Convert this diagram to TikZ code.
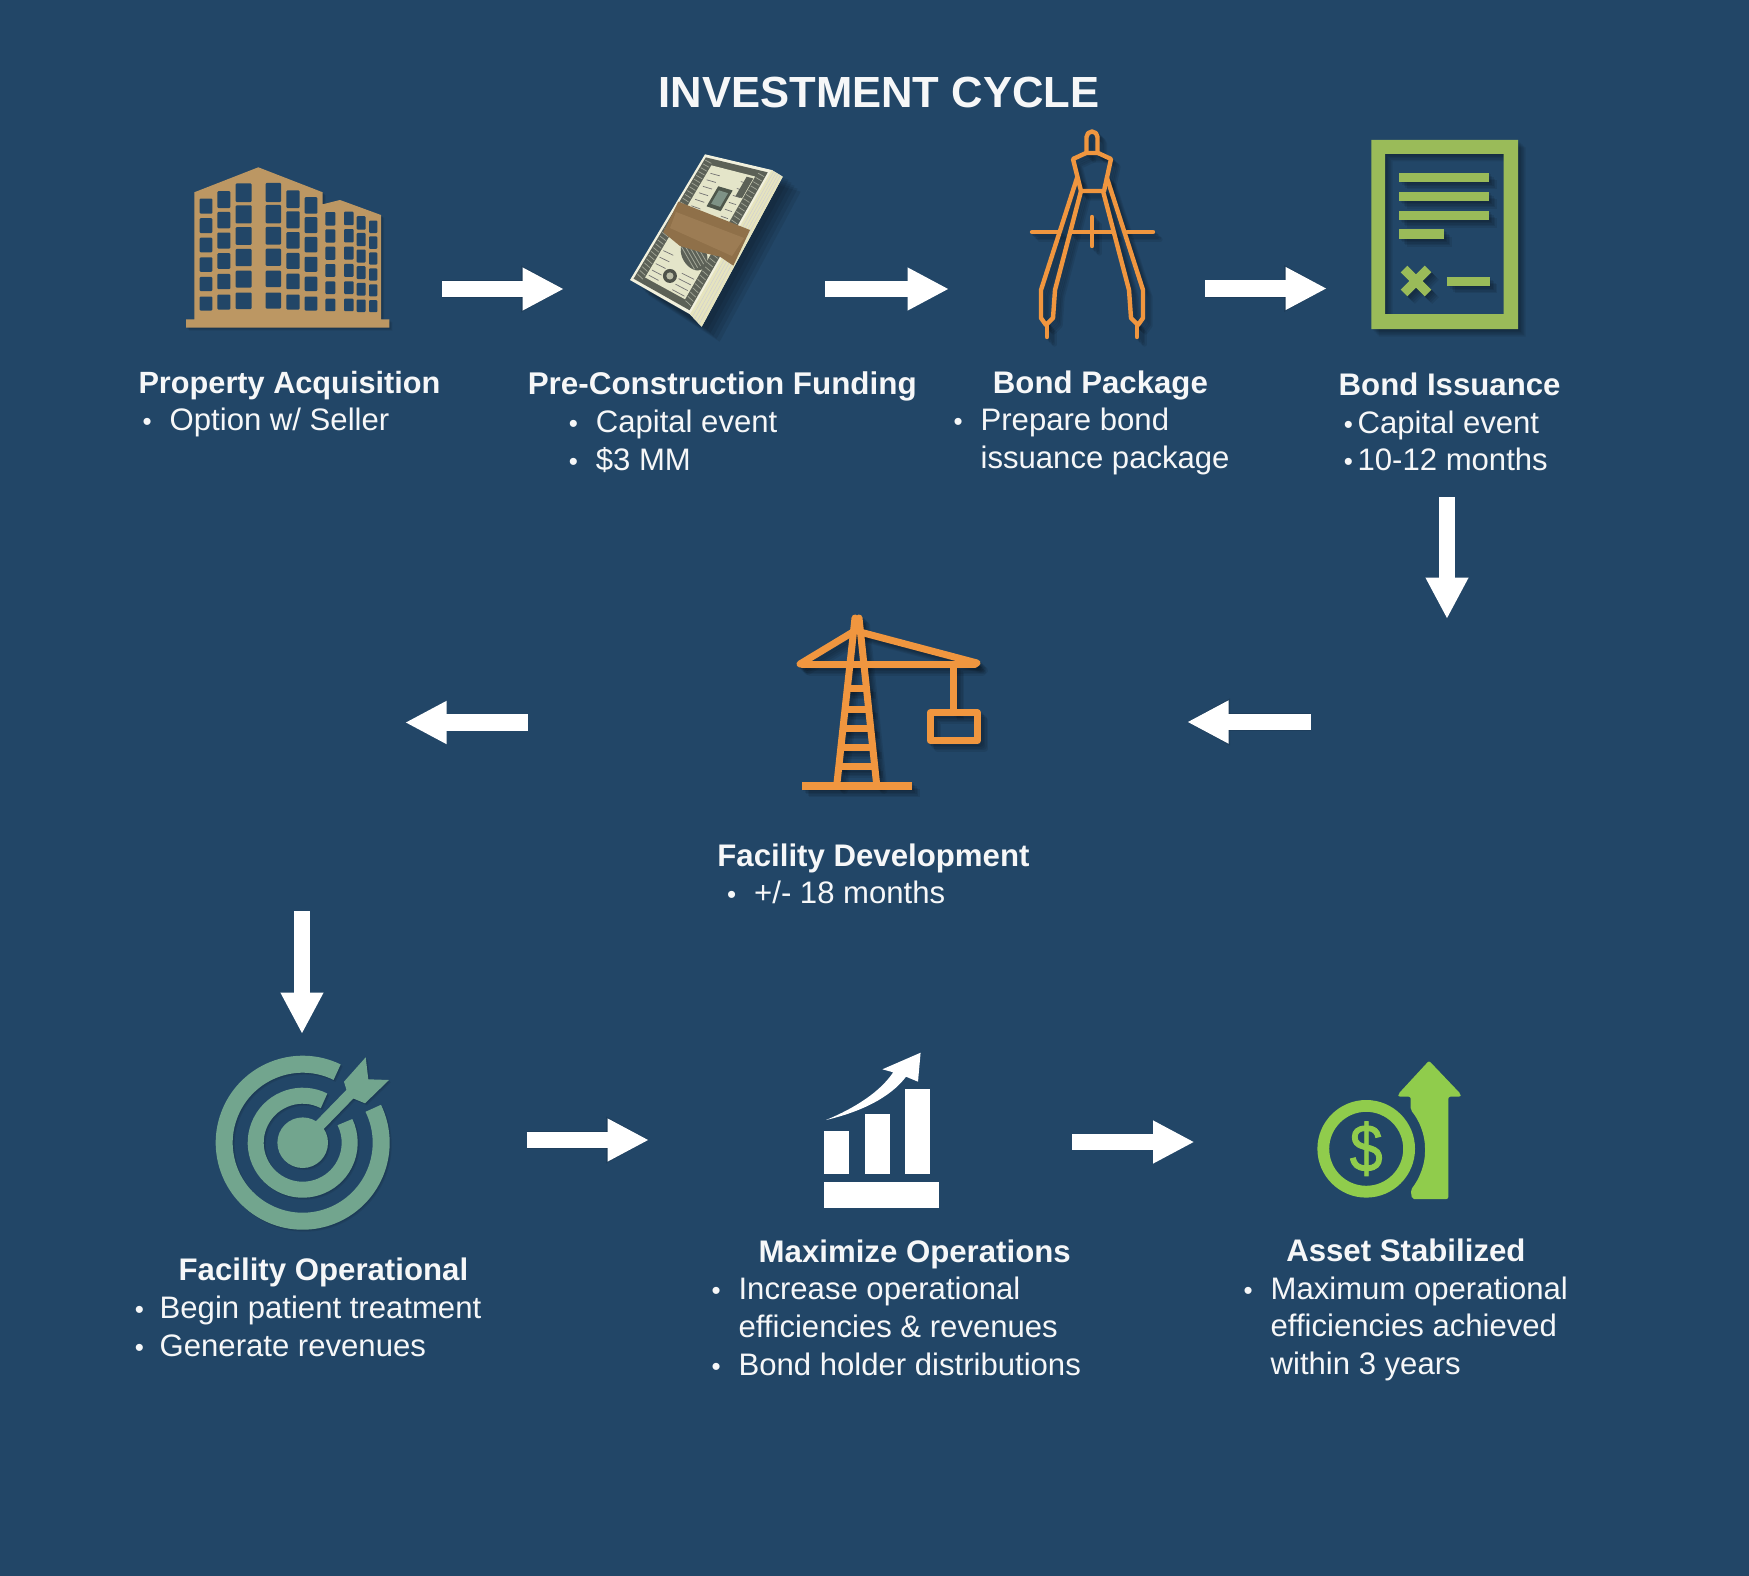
\documentclass[tikz,border=0pt]{standalone}
\usepackage{fontspec}
\setmainfont{Liberation Sans}
\newfontfamily\dollarfont[FakeBold=1.4]{Liberation Sans}
\usetikzlibrary{arrows.meta}
\definecolor{bgc}{HTML}{224667}
\definecolor{brownc}{HTML}{BC9763}
\definecolor{orangec}{HTML}{F0963F}
\definecolor{docc}{HTML}{9ABB59}
\definecolor{targetc}{HTML}{72A58E}
\definecolor{coinc}{HTML}{90CC4C}
\definecolor{txtc}{HTML}{F6F7F8}
\definecolor{billdark}{HTML}{5C6157}
\definecolor{billmid}{HTML}{A3A798}
\definecolor{billcream}{HTML}{E4E5C9}
\definecolor{billedge}{HTML}{F2F1DE}
\definecolor{billside}{HTML}{E6E4BE}
\definecolor{billframe}{HTML}{4E574C}
\definecolor{billport}{HTML}{7E9286}
\definecolor{sealc}{HTML}{B9BBA6}
\definecolor{bandc}{HTML}{8F7049}
\definecolor{bandl}{HTML}{A18158}
\colorlet{ink}{white}
\newcommand{\softicon}[3][1.5,3,4.5,6,7.5]{%
  \foreach \dd in {#1}{%
    \begin{scope}[shift={(\dd,\dd)},opacity=.08]\colorlet{ink}{black}#3\end{scope}}%
  \begin{scope}\colorlet{ink}{#2}#3\end{scope}}
% bilinear map on the face of the bill
\newcommand{\bset}[3]{%
  \pgfmathsetmacro\bx{(1-(#3))*((1-(#2))*705+(#2)*771.7)+(#3)*((1-(#2))*630+(#2)*690)}%
  \pgfmathsetmacro\by{(1-(#3))*((1-(#2))*154.3+(#2)*170)+(#3)*((1-(#2))*280+(#2)*314.3)}%
  \coordinate (#1) at (\bx,\by);}
\newcommand{\brect}[5]{%
  \bset{pa}{#2}{#3}\bset{pb}{#4}{#3}\bset{pc}{#4}{#5}\bset{pd}{#2}{#5}%
  \fill[#1] (pa) -- (pb) -- (pc) -- (pd) -- cycle;}
\newcommand{\bline}[6]{%
  \bset{pa}{#3}{#4}\bset{pb}{#5}{#6}%
  \draw[#1,line width=#2] (pa) -- (pb);}
\tikzset{
  blockarrow/.style={line width=16.5pt,white,-{Triangle[length=41.5pt,width=40pt]}},
  shadowarrow/.style={line width=18pt,black,opacity=.10,-{Triangle[length=43pt,width=44pt]}},
  hd/.style={anchor=base west,inner sep=0,text=txtc,font=\fontsize{31.2}{36}\selectfont\bfseries},
  bd/.style={anchor=base west,inner sep=0,text=txtc,font=\fontsize{31.1}{36}\selectfont},
  bl/.style={anchor=base,inner sep=0,text=txtc,font=\fontsize{26}{26}\selectfont},
  iconline/.style={draw=ink,line width=4.4pt,line cap=round,line join=round},
  craneline/.style={draw=ink,line width=7pt,line join=round}
}
\begin{document}
\begin{tikzpicture}[x=1pt,y=-1pt]
\useasboundingbox (0,0) rectangle (1749,1576);
\fill[bgc] (0,0) rectangle (1749,1576);

% ---------- title
\node[anchor=base,inner sep=0,text=txtc,font=\fontsize{43.6}{50}\selectfont\bfseries] (title) at (879,108) {INVESTMENT CYCLE};

% ---------- building
\softicon[1,2,3]{brownc}{%
  \fill[ink] (186,319.3) -- (194.3,319.3) -- (194.3,192.3) -- (258.3,167.3) -- (322.7,192.3) -- (322.7,204.3)
     -- (340,200) -- (381,215) -- (381,319.3) -- (389.3,319.3) -- (389.3,327.7) -- (186,327.7) -- cycle;
}
\foreach \xa/\xb/\ta/\tb/\ha/\hb in {
  199.7/212.3/198.5/296.5/15.2/14,   217.4/230.3/191.2/294.5/16.8/15,  235.7/251.6/183.5/292.5/18.6/16.5,
  265.7/281/183/292.5/19/16,         286.4/299.6/190.5/294.5/17.5/15,  304.7/317.3/197.2/296.5/16.5/14,
  325.4/335.3/212/298.7/13.5/12.5,   344/353.6/211.7/298.7/13.5/12.5,  356.7/365.6/216.2/299.5/13.5/12.5,
  369/377.3/220.5/300.2/12.5/12}{
  \foreach \r in {0,...,5}{
    \pgfmathsetmacro\yy{\ta+\r*(\tb-\ta)/5}
    \pgfmathsetmacro\hh{\ha+\r*(\hb-\ha)/5}
    \fill[bgc,rounded corners=1pt] (\xa,\yy) rectangle (\xb,\yy+\hh);
  }
}

% ---------- money
\foreach \dd in {3,6,9,12,15}{
  \fill[black,opacity=.08,shift={(\dd+3,\dd)}] (705,154.3) -- (782.7,176.7) -- (701.7,326.7) -- (630,280) -- cycle;
}
\fill[billedge] (705,154.3) -- (771.7,170) -- (782.7,176.7) -- (701.7,326.7) -- (690,314.3) -- (630,280) -- cycle;
\fill[billside] (771.7,170) -- (782.7,176.7) -- (701.7,326.7) -- (690,314.3) -- cycle;
\foreach \k in {1,2,3,4}{
  \draw[black!18,line width=.5pt] (771.7+2.2*\k,170+1.3*\k) -- (690+2.3*\k,314.3+2.4*\k);
}
\brect{billdark}{.035}{.02}{.965}{.98}
\brect{billcream}{.17}{.065}{.83}{.935}
% scrollwork on the long bands
\foreach \v in {.04,.07,...,.97}{
  \bline{billmid}{.7pt}{.05}{\v}{.155}{\v+.012}
  \bline{billmid}{.7pt}{.845}{\v}{.95}{\v+.012}
}
% upper bill: portrait frame and small print
\brect{billframe}{.42}{.19}{.64}{.34}
\brect{billport}{.46}{.215}{.60}{.315}
\foreach \v in {.12,.17,.22,.27,.32,.37}{
  \bline{black!55}{.7pt}{.22}{\v}{.36}{\v}
  \bline{black!55}{.7pt}{.68}{\v}{.79}{\v}
}
\brect{billdark}{.72}{.08}{.82}{.22}
% lower bill: portrait and seal
\bset{sealpt}{.47}{.85}
\fill[billdark!85!black] (sealpt) circle[radius=7];
\fill[sealc] (sealpt) circle[radius=3.6];
\bset{portpt}{.62}{.66}
\fill[billdark,rotate around={-60:(portpt)}] (portpt) ellipse[x radius=17,y radius=12];
\foreach \a in {-7,-3.5,0,3.5,7}{
  \draw[billmid,line width=.8pt,shift={(portpt)},rotate=-60] (-13,\a) -- (13,\a);
}
\foreach \v in {.72,.77,.82,.87,.91}{
  \bline{black!55}{.7pt}{.2}{\v}{.36}{\v}
}
\foreach \v in {.80,.84,.88,.92}{
  \bline{black!55}{.7pt}{.60}{\v}{.8}{\v}
}
% paper band
\fill[bandc] (678.3,201.7) -- (750,230) -- (733.3,265.7) -- (720,256.7) -- (700,252) -- (680,246) -- (663.3,232.3) -- cycle;
\fill[bandl,opacity=.75] (676,212) -- (744,238) -- (732,256) -- (670,228) -- cycle;

% ---------- compass
\softicon{orangec}{%
  \draw[iconline] (1086.5,153) -- (1086.5,137) arc[start angle=180,end angle=360,radius=5.5] -- (1097.5,153);
  \draw[iconline] (1073,159) -- (1086,153) -- (1098,153) -- (1111,159) -- (1104,191) -- (1081,191) -- cycle;
  \draw[iconline] (1077,178) -- (1041,290) -- (1041,318) -- (1046,325) -- (1053,318) -- (1055,290) -- (1081,191);
  \draw[iconline] (1107,178) -- (1143,290) -- (1143,318) -- (1138,325) -- (1131,318) -- (1129,290) -- (1103,191);
  \draw[iconline] (1047,325) -- (1047,337);
  \draw[iconline] (1137,325) -- (1137,337);
  \draw[iconline] (1032,232) -- (1059,232);
  \draw[iconline] (1071,232) -- (1113,232);
  \draw[iconline] (1127,232) -- (1153,232);
  \draw[iconline] (1092,217) -- (1092,246);
}

% ---------- document
\softicon{docc}{%
  \fill[ink,even odd rule] (1371.4,140) rectangle (1518,329) (1385,154) rectangle (1503.6,314);
  \fill[ink] (1399.3,172.7) rectangle (1489.3,182);
  \fill[ink] (1399.3,191.7) rectangle (1489.3,201);
  \fill[ink] (1399.3,210.7) rectangle (1489.3,220);
  \fill[ink] (1399.3,229.3) rectangle (1444,239);
  \fill[ink] (1447,276.7) rectangle (1489.6,285.7);
  \draw[ink,line width=9.5pt] (1404,269) -- (1428,293);
  \draw[ink,line width=9.5pt] (1428,269) -- (1404,293);
}

% ---------- crane
\softicon{orangec}{%
  \draw[craneline,line cap=round] (802,664.5) -- (975,664.5);
  \draw[craneline,line cap=round] (800,664) -- (853,632);
  \draw[craneline,line cap=round] (860,632) -- (977,663);
  \draw[craneline,line cap=round] (855,618) -- (837,783);
  \draw[craneline,line cap=round] (859,618) -- (876.5,783);
  \foreach \yy/\xa/\xb in {688.3/845/868,709.3/843/870,728.3/841/872,747.7/839/874,766.7/838/875}{
    \draw[craneline] (\xa,\yy) -- (\xb,\yy);
  }
  \fill[ink] (801.7,781.5) rectangle (912.3,789.5);
  \draw[craneline] (953.3,665) -- (953.3,712);
  \draw[craneline] (930.3,712.7) rectangle (977.3,740.7);
}

% ---------- target
\softicon[1,2]{targetc}{%
  \draw[ink,line width=17pt] (302.7,1142.7) ++(-64:78.5) arc[start angle=-64,end angle=-386,radius=78.5];
  \draw[ink,line width=16pt] (302.7,1142.7) ++(-63:47) arc[start angle=-63,end angle=-386,radius=47];
  \fill[ink] (302.7,1142.7) circle[radius=25.3];
  \draw[ink,line width=11pt] (302.7,1142.7) -- (352,1092);
  \fill[ink] (344,1081.7) -- (365.7,1057.3) -- (368.3,1079.3) -- (389,1080) -- (365,1103.3) -- (348.5,1096.5) -- cycle;
}

% ---------- chart
\fill[white] (823.9,1131) rectangle (848.6,1174);
\fill[white] (865,1114) rectangle (889.8,1174);
\fill[white] (905.4,1089) rectangle (930,1174);
\fill[white] (823.9,1182.3) rectangle (938.8,1207.7);
\fill[white] (826,1120) .. controls (855,1108) and (880,1092) .. (893.2,1072.3) -- (882.4,1069.3)
   -- (920.6,1052.7) -- (918,1081.7) -- (906,1076.7) .. controls (890,1098) and (860,1112) .. cycle;

% ---------- coin and arrow
\draw[coinc,line width=11.8pt] (1366.2,1148.8) circle[radius=42.9];
\node[inner sep=0,text=coinc,font=\fontsize{67}{70}\dollarfont\selectfont] (dollar) at (1366.2,1148.8) {\scalebox{.88}[1]{\$}};
\fill[coinc,rounded corners=2pt] (1429,1060.7) -- (1460.7,1094) -- (1460.7,1096.7) -- (1448.3,1096.7) -- (1448.3,1199) -- (1412,1199)
   -- (1410.7,1190) .. controls (1420,1178) and (1425,1164) .. (1425,1150) .. controls (1425,1134) and (1419,1120) .. (1410.7,1110) -- (1410.7,1096.7) -- (1398.3,1096.7) -- (1398.3,1094) -- cycle;

% ---------- arrows
\coordinate (a1s) at (442,289);   \coordinate (a1e) at (564,289);
\coordinate (a2s) at (825,289);   \coordinate (a2e) at (949,289);
\coordinate (a3s) at (1205,288.5);\coordinate (a3e) at (1327,288.5);
\coordinate (a4s) at (1447,497);  \coordinate (a4e) at (1447,619);
\coordinate (a5s) at (1310.5,722);\coordinate (a5e) at (1187,722);
\coordinate (a6s) at (527.5,722.5);\coordinate (a6e) at (405,722.5);
\coordinate (a7s) at (302,911);   \coordinate (a7e) at (302,1034);
\coordinate (a8s) at (526.5,1140);\coordinate (a8e) at (649,1140);
\coordinate (a9s) at (1072,1142); \coordinate (a9e) at (1194.5,1142);
\begin{scope}[shift={(3,1)}]
  \draw[shadowarrow] (a5s) -- (a5e);
  \draw[shadowarrow] (a8s) -- (a8e);
  \draw[shadowarrow] (a1s) -- (a1e);
  \draw[shadowarrow] (a3s) -- (a3e);
\end{scope}
\foreach \s/\e in {a1s/a1e,a2s/a2e,a3s/a3e,a4s/a4e,a5s/a5e,a6s/a6e,a7s/a7e,a8s/a8e,a9s/a9e}{
  \draw[blockarrow] (\s) -- (\e);
}

% ---------- text
\begin{scope}[x=1.1154pt,y=-1.1154pt]
\node[hd,font=\fontsize{30.7}{36}\selectfont\bfseries] (h1) at (124,353) {Property Acquisition};
\node[bl] (b11) at (132,386) {•};
\node[bd] (t11) at (152,386) {Option w/ Seller};

\node[hd,font=\fontsize{31.4}{36}\selectfont\bfseries] (h2) at (473,354) {Pre-Construction Funding};
\node[bl] (b21) at (514,388) {•};
\node[bd] (t21) at (534,388) {Capital event};
\node[bl] (b22) at (514,422) {•};
\node[bd] (t22) at (534,422) {\$3 MM};

\node[hd] (h3) at (890,353) {Bond Package};
\node[bl] (b31) at (859,386) {•};
\node[bd] (t31) at (879,386) {Prepare bond};
\node[bd] (t32) at (879,420) {issuance package};

\node[hd] (h4) at (1200,355) {Bond Issuance};
\node[bl] (b41) at (1209,389) {•};
\node[bd] (t41) at (1217,389) {Capital event};
\node[bl] (b42) at (1209,422) {•};
\node[bd] (t42) at (1217,422) {10-12 months};

\node[hd] (h5) at (643,777) {Facility Development};
\node[bl] (b51) at (656,810) {•};
\node[bd] (t51) at (676,810) {+/- 18 months};

\node[hd] (h6) at (160,1148) {Facility Operational};
\node[bl] (b61) at (125,1182) {•};
\node[bd] (t61) at (143,1182) {Begin patient treatment};
\node[bl] (b62) at (125,1216) {•};
\node[bd] (t62) at (143,1216) {Generate revenues};

\node[hd] (h7) at (680,1132) {Maximize Operations};
\node[bl] (b71) at (642,1165) {•};
\node[bd] (t71) at (662,1165) {Increase operational};
\node[bd] (t72) at (662,1199) {efficiencies \& revenues};
\node[bl] (b72) at (642,1233) {•};
\node[bd] (t73) at (662,1233) {Bond holder distributions};

\node[hd] (h8) at (1153,1131) {Asset Stabilized};
\node[bl] (b81) at (1119,1165) {•};
\node[bd] (t81) at (1139,1165) {Maximum operational};
\node[bd] (t82) at (1139,1198) {efficiencies achieved};
\node[bd] (t83) at (1139,1232) {within 3 years};
\end{scope}
\end{tikzpicture}
\end{document}
